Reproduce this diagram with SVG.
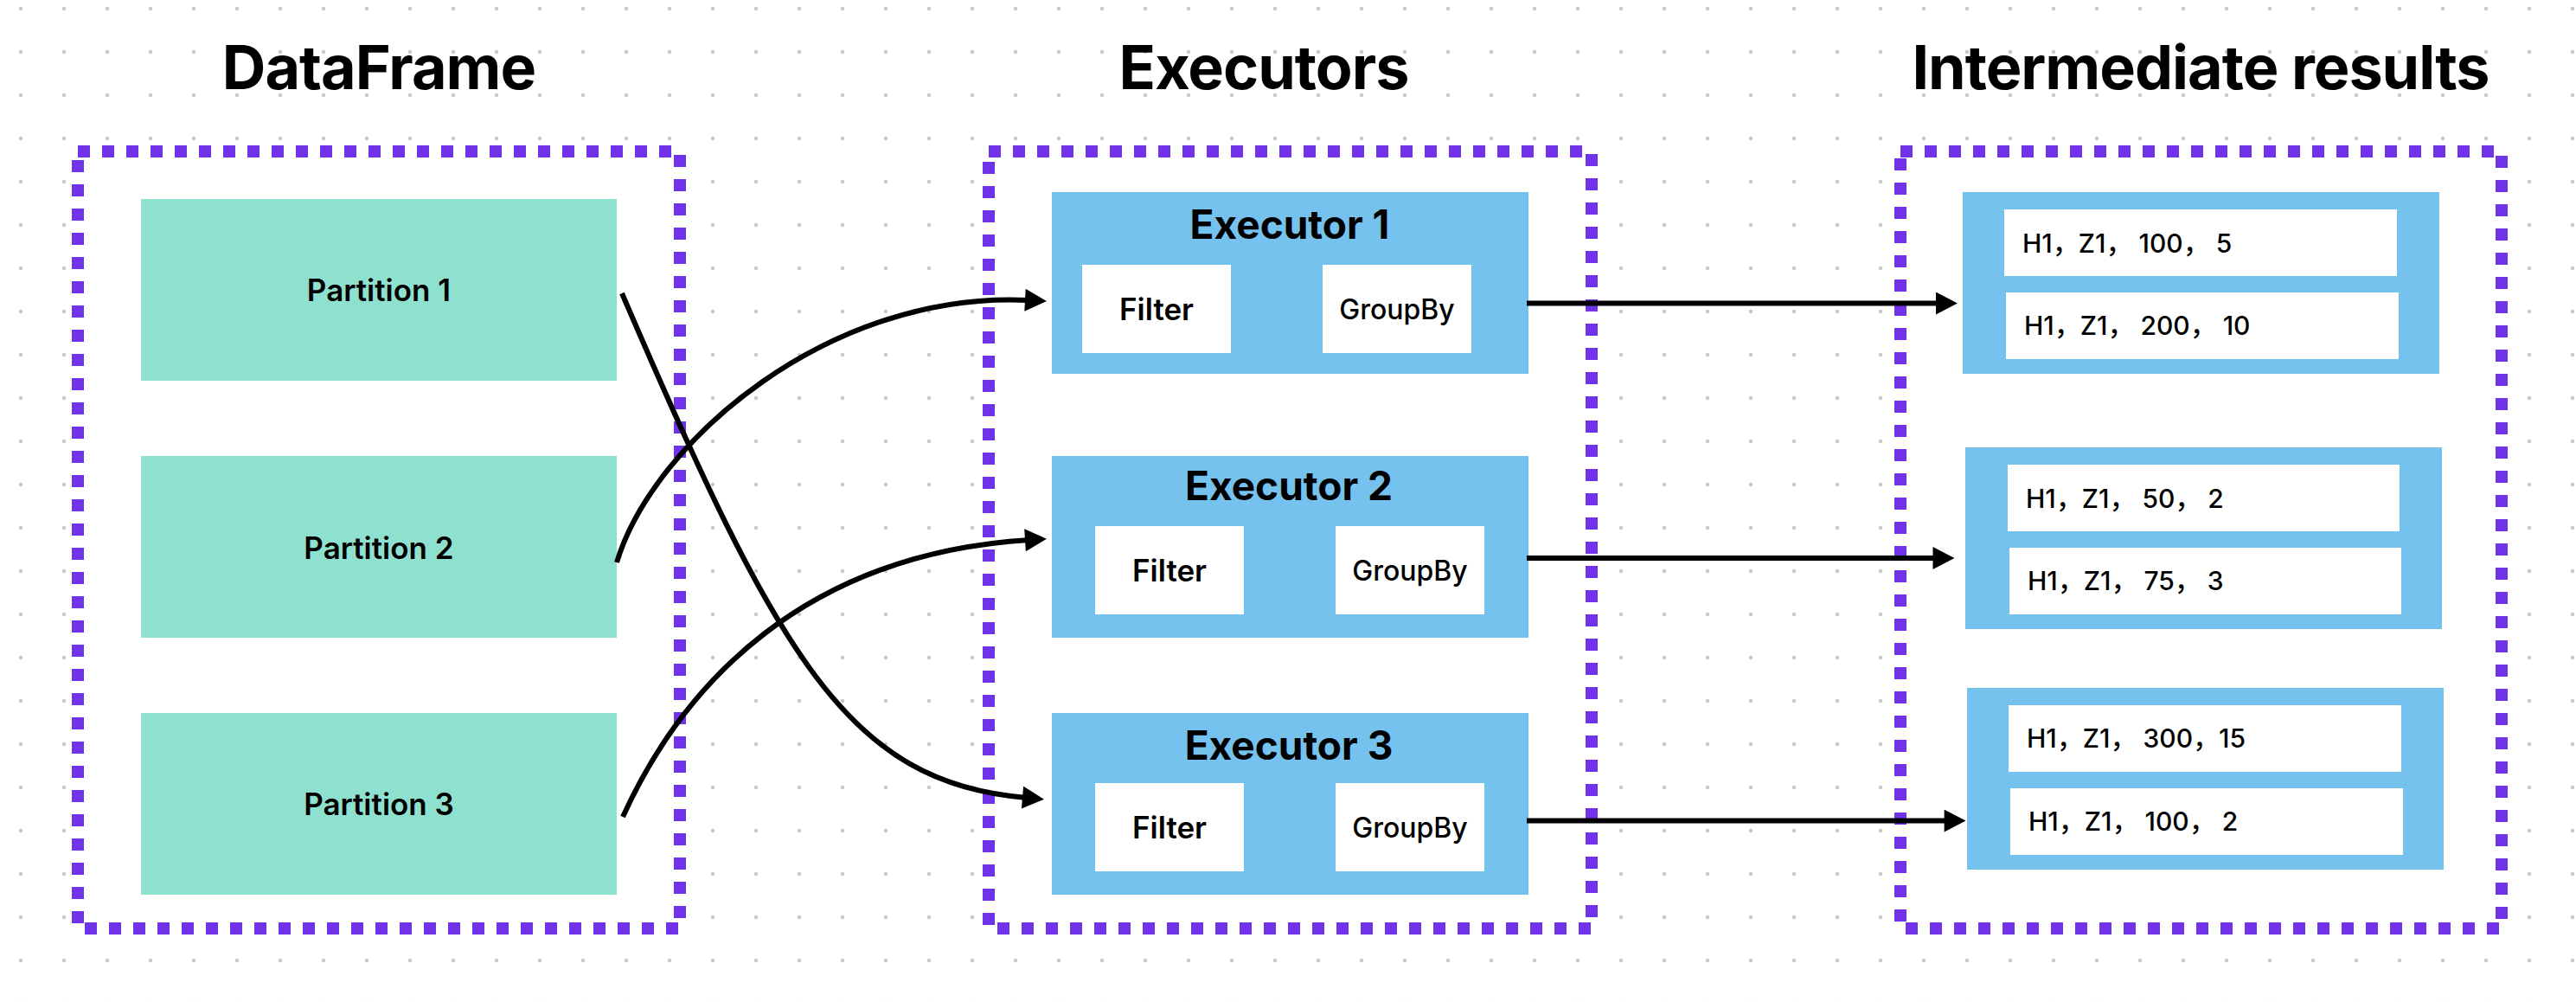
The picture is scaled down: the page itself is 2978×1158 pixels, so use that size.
<svg xmlns="http://www.w3.org/2000/svg" width="2978" height="1158" viewBox="0 0 2978 1158">
  <defs>
    <pattern id="dots" width="50" height="50" patternUnits="userSpaceOnUse">
      <circle cx="24" cy="10" r="2.2" fill="#c8c8c8"/>
    </pattern>
    <marker id="arrow" markerUnits="userSpaceOnUse" markerWidth="26" markerHeight="26" viewBox="0 0 25 26" refX="5" refY="13" orient="auto">
      <path d="M0,0 L25,13 L0,26 z" fill="#000"/>
    </marker>
    <style>
      text { font-family: Inter, "Noto Sans CJK SC", "Liberation Sans", sans-serif; fill: #000; }
      .title { font-size: 70px; font-weight: 700; text-anchor: middle; letter-spacing: -1px; }
      .group { fill: #ffffff; stroke: #7033ea; stroke-width: 14; stroke-dasharray: 14 14; }
      .part { fill: #8fe1cf; }
      .exec { fill: #76c2ef; }
      .inner { fill: #ffffff; }
      .ptext { font-size: 35px; font-weight: 600; text-anchor: middle; }
      .etitle { font-size: 46px; font-weight: 700; text-anchor: middle; }
      .ftext { font-size: 35px; font-weight: 600; text-anchor: middle; }
      .gtext { font-size: 32px; font-weight: 500; text-anchor: middle; }
      .rtext { font-size: 30px; font-weight: 500; white-space: pre; }
      .conn { fill: none; stroke: #000; stroke-width: 6; marker-end: url(#arrow); }
    </style>
  </defs>

  <rect x="0" y="0" width="2978" height="1158" fill="#ffffff"/>
  <rect x="0" y="0" width="2978" height="1158" fill="url(#dots)"/>

  <g id="titles">
    <text class="title" x="438" y="103">DataFrame</text>
    <text class="title" x="1461" y="103">Executors</text>
    <text class="title" x="2544" y="103">Intermediate results</text>
  </g>

  <g id="dataframe-group">
    <rect class="group" x="90" y="175" width="696" height="898"/>
  </g>
  <g id="executors-group">
    <rect class="group" x="1143" y="175" width="697" height="898"/>
  </g>
  <g id="results-group">
    <rect class="group" x="2197" y="175" width="695" height="898"/>
  </g>

  <g id="partition-1">
    <rect class="part" x="163" y="230" width="550" height="210"/>
    <text class="ptext" x="438" y="348">Partition 1</text>
  </g>
  <g id="partition-2">
    <rect class="part" x="163" y="527" width="550" height="210"/>
    <text class="ptext" x="438" y="646">Partition 2</text>
  </g>
  <g id="partition-3">
    <rect class="part" x="163" y="824" width="550" height="210"/>
    <text class="ptext" x="438" y="942">Partition 3</text>
  </g>

  <g id="executor-1">
    <rect class="exec" x="1216" y="222" width="551" height="210"/>
    <text class="etitle" x="1491" y="276">Executor 1</text>
    <rect class="inner" x="1251" y="306" width="172" height="102"/>
    <text class="ftext" x="1337" y="370">Filter</text>
    <rect class="inner" x="1529" y="306" width="172" height="102"/>
    <text class="gtext" x="1615" y="369">GroupBy</text>
  </g>
  <g id="executor-2">
    <rect class="exec" x="1216" y="527" width="551" height="210"/>
    <text class="etitle" x="1490" y="578">Executor 2</text>
    <rect class="inner" x="1266" y="608" width="172" height="102"/>
    <text class="ftext" x="1352" y="672">Filter</text>
    <rect class="inner" x="1544" y="608" width="172" height="102"/>
    <text class="gtext" x="1630" y="671">GroupBy</text>
  </g>
  <g id="executor-3">
    <rect class="exec" x="1216" y="824" width="551" height="210"/>
    <text class="etitle" x="1490" y="878">Executor 3</text>
    <rect class="inner" x="1266" y="905" width="172" height="102"/>
    <text class="ftext" x="1352" y="969">Filter</text>
    <rect class="inner" x="1544" y="905" width="172" height="102"/>
    <text class="gtext" x="1630" y="968">GroupBy</text>
  </g>

  <g id="result-1">
    <rect class="exec" x="2269" y="222" width="551" height="210"/>
    <rect class="inner" x="2317" y="242" width="454" height="77"/>
    <text class="rtext" x="2338" y="292">H1，Z1， 100， 5</text>
    <rect class="inner" x="2319" y="338" width="454" height="77"/>
    <text class="rtext" x="2340" y="387">H1，Z1， 200， 10</text>
  </g>
  <g id="result-2">
    <rect class="exec" x="2272" y="517" width="551" height="210"/>
    <rect class="inner" x="2321" y="537" width="453" height="77"/>
    <text class="rtext" x="2342" y="587">H1，Z1， 50， 2</text>
    <rect class="inner" x="2323" y="633" width="453" height="77"/>
    <text class="rtext" x="2344" y="682">H1，Z1， 75， 3</text>
  </g>
  <g id="result-3">
    <rect class="exec" x="2274" y="795" width="551" height="210"/>
    <rect class="inner" x="2322" y="815" width="454" height="77"/>
    <text class="rtext" x="2343" y="864">H1，Z1， 300，15</text>
    <rect class="inner" x="2324" y="911" width="454" height="77"/>
    <text class="rtext" x="2345" y="960">H1，Z1， 100， 2</text>
  </g>

  <g id="connectors">
    <path class="conn" d="M719,339 C900,760 980,905 1187,922"/>
    <path class="conn" d="M713,650 C755,510 960,335 1190,347"/>
    <path class="conn" d="M720,944 C790,790 930,640 1190,624"/>
    <path class="conn" d="M1765,350.5 H2243"/>
    <path class="conn" d="M1765,645 H2239.5"/>
    <path class="conn" d="M1765,948.6 H2252.6"/>
  </g>
</svg>
